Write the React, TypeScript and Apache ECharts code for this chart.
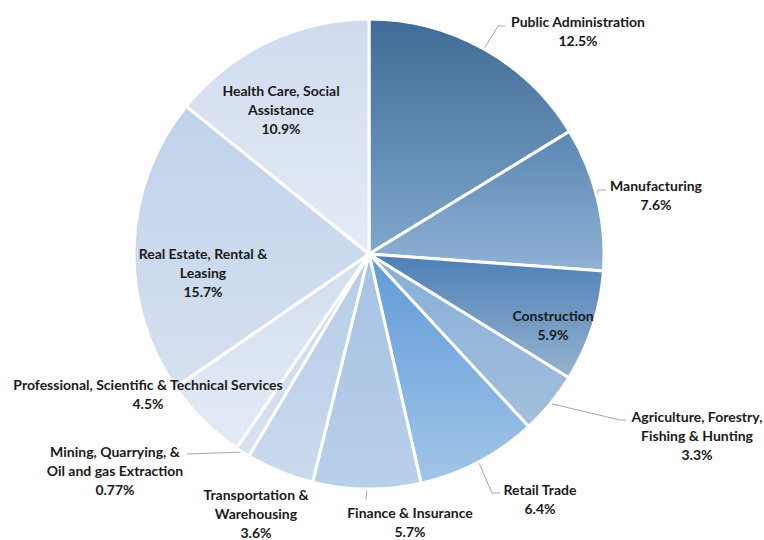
import React, { useEffect, useRef } from "react";
import * as echarts from "echarts";

const categories = [
  "Public Administration",
  "Manufacturing",
  "Construction",
  "Agriculture, Forestry,\nFishing & Hunting",
  "Retail Trade",
  "Finance & Insurance",
  "Transportation &\nWarehousing",
  "Mining, Quarrying, &\nOil and gas Extraction",
  "Professional, Scientific & Technical Services",
  "Real Estate, Rental &\nLeasing",
  "Health Care, Social\nAssistance",
];

const values = [12.5, 7.6, 5.9, 3.3, 6.4, 5.7, 3.6, 0.77, 4.5, 15.7, 10.9];

// gradient (top, bottom) per slice
const sliceColors: [string, string][] = [
  ["#3f6b96", "#80a7cc"],
  ["#5a86b3", "#8fb2d4"],
  ["#4d7fb6", "#96b3d0"],
  ["#87afd8", "#a3bfdc"],
  ["#5f9ad8", "#a2c5e7"],
  ["#a6c1e3", "#b9d0ea"],
  ["#b6cce8", "#cadaee"],
  ["#c8d8ed", "#d7e2f1"],
  ["#d2deef", "#e4ebf5"],
  ["#c0d2ea", "#d6e1f0"],
  ["#cfdbee", "#e4ebf5"],
];

// label block centres (layout only)
const labelPos: [number, number][] = [
  [578, 31],
  [656, 195],
  [553, 325],
  [697, 435],
  [540, 499],
  [410, 522],
  [256, 513],
  [115, 470],
  [148, 394],
  [203, 272],
  [281, 109],
];

// leader line intermediate points (layout only), null = no leader line
const leaderPts: ([number, number][] | null)[] = [
  [[498, 26], [505, 26]],
  [[598, 190], [606, 190]],
  null,
  [[620, 420], [626, 420]],
  [[492, 493], [500, 493]],
  [[366, 500]],
  null,
  [[187, 454]],
  null,
  null,
  null,
];

const CX = 369;
const CY = 254;
const R = 235;

export default function App() {
  const ref = useRef<HTMLDivElement>(null);
  useEffect(() => {
    if (!ref.current) return;
    const chart = echarts.init(ref.current, null, { renderer: "svg" });
    const total = values.reduce((a, b) => a + b, 0);
    const mids: number[] = [];
    let acc = 0;
    values.forEach((v) => {
      mids.push(((acc + v / 2) / total) * Math.PI * 2);
      acc += v;
    });
    const data = values.map((v, i) => ({
      name: categories[i],
      value: v,
      itemStyle: {
        color: {
          type: "linear",
          x: 0,
          y: 0,
          x2: 0,
          y2: 1,
          colorStops: [
            { offset: 0, color: sliceColors[i][0] },
            { offset: 1, color: sliceColors[i][1] },
          ],
        },
      },
      labelLine: { show: leaderPts[i] !== null },
    }));
    chart.setOption({
      animation: false,
      backgroundColor: "#ffffff",
      series: [
        {
          type: "pie",
          center: [CX, CY],
          radius: [0, R],
          startAngle: 90,
          clockwise: true,
          avoidLabelOverlap: false,
          data,
          itemStyle: { borderColor: "#ffffff", borderWidth: 3 },
          label: {
            show: true,
            position: "outside",
            formatter: (p: any) => p.name + "\n" + String(p.value) + "%",
            fontFamily: "Lato",
            fontWeight: "bold",
            fontSize: 14,
            lineHeight: 19,
            color: "#1a1a1a",
            align: "center",
          },
          labelLine: {
            show: true,
            lineStyle: { color: "#a6a6a6", width: 1 },
          },
          labelLayout: (params: any) => {
            const i = params.dataIndex;
            const [x, y] = labelPos[i];
            const res: any = { x, y, align: "center", verticalAlign: "middle" };
            const pts = leaderPts[i];
            if (pts) {
              const a = mids[i];
              const start: [number, number] = [CX + R * Math.sin(a), CY - R * Math.cos(a)];
              res.labelLinePoints = [start, ...pts];
              if (pts.length === 1) res.labelLinePoints = [start, pts[0], pts[0]];
            }
            return res;
          },
        },
      ],
    });
    return () => chart.dispose();
  }, []);
  return (
    <div
      ref={ref}
      style={{ position: "fixed", left: 0, top: 0, width: 764, height: 540 }}
    />
  );
}
